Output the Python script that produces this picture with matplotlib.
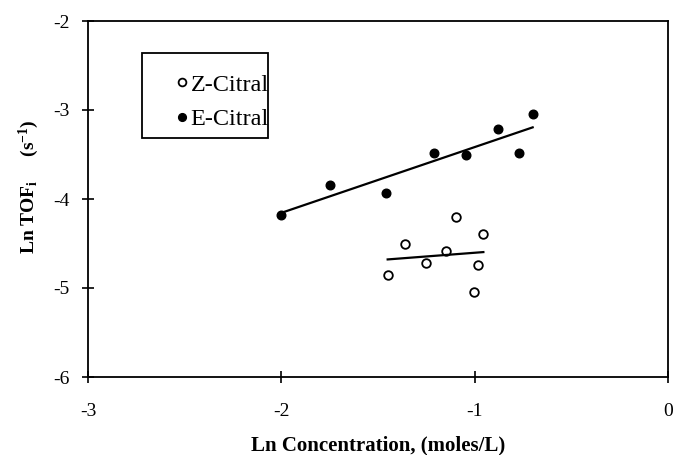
import matplotlib.pyplot as plt
from matplotlib.patches import Rectangle
import numpy as np

# Z-Citral (open circles)
z_conc = [-1.45, -1.36, -1.25, -1.15, -1.095, -1.004, -0.985, -0.955]
z_tof = [-4.85, -4.505, -4.72, -4.58, -4.20, -5.05, -4.745, -4.39]

# E-Citral (filled circles)
e_conc = [-2.0, -1.75, -1.46, -1.21, -1.045, -0.88, -0.77, -0.70]
e_tof = [-4.18, -3.845, -3.93, -3.48, -3.51, -3.21, -3.48, -3.04]

xticks = [-3, -2, -1, 0]
yticks = [-6, -5, -4, -3, -2]

plt.rcParams['font.family'] = ['Liberation Serif', 'DejaVu Serif']
plt.rcParams['axes.unicode_minus'] = False
plt.rcParams['mathtext.fontset'] = 'custom'
plt.rcParams['mathtext.rm'] = 'Liberation Serif'
plt.rcParams['mathtext.it'] = 'Liberation Serif:italic'
plt.rcParams['mathtext.bf'] = 'Liberation Serif:bold'

fig = plt.figure(figsize=(6.74, 4.55), dpi=100)
ax = fig.add_axes([88/674, 1-377/455, 580/674, 356/455])

ax.plot(z_conc, z_tof, 'o', mfc='white', mec='black', mew=1.3, ms=6.2, label='Z-Citral')
ax.plot(e_conc, e_tof, 'o', color='black', ms=6.2, label='E-Citral')

# least-squares lines through each set
for xs, ys in [(z_conc, z_tof), (e_conc, e_tof)]:
    k, b = np.polyfit(xs, ys, 1)
    xx = np.array([min(xs), max(xs)])
    ax.plot(xx, k*xx + b, color='black', lw=1.6)

ax.set_xlim(-3, 0)
ax.set_ylim(-6, -2)
ax.set_xticks(xticks)
ax.set_yticks(yticks)
ax.tick_params(direction='inout', length=9, width=1.2, labelsize=14)
ax.tick_params(axis='x', pad=14)
ax.tick_params(axis='y', pad=8.5)
for s in ax.spines.values():
    s.set_linewidth(1.3)

ax.set_xlabel('Ln Concentration, (moles/L)', fontsize=15, fontweight='bold')
ax.xaxis.set_label_coords(0.5, -0.163)
ax.set_ylabel(r'Ln TOF$_\mathbf{i}$     (s$^{\mathbf{-1}}$)', fontsize=14, fontweight='bold')
ax.yaxis.set_label_coords(-0.081, 0.534)

# legend entries without frame, box drawn separately
leg = ax.legend(loc='upper left', bbox_to_anchor=(0.1288, 0.886), fontsize=17.5,
                frameon=False, borderpad=0, handlelength=0.6, handletextpad=0.05,
                labelspacing=0.52, markerscale=0.9)
ax.add_patch(Rectangle((0.0931, 0.6713), 0.2172, 0.2388, transform=ax.transAxes,
                       fill=False, edgecolor='black', lw=1.3))

fig.savefig('out.png', dpi=100)
